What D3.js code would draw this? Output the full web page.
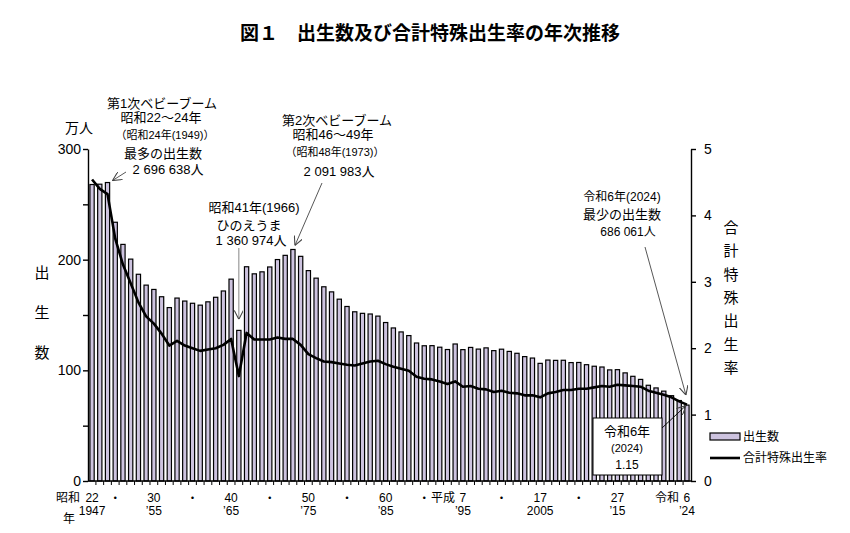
<!DOCTYPE html>
<html>
<head>
<meta charset="utf-8">
<script src="https://cdn.jsdelivr.net/npm/d3@7"></script>
<style>
  body { margin: 0; background: #fff; }
  text { font-family: "Liberation Sans", Arial, "Noto Sans CJK JP", sans-serif; fill: #000; }
</style>
</head>
<body>
<div id="chart"></div>
<script>
// 年（昭和22年=1947 〜 令和6年=2024）
const years = d3.range(1947, 2025);

// 出生数（万人）
const births = [
  267.9, 268.2, 269.7, 233.8, 213.8, 200.5, 186.8, 177.0, 173.1, 166.5,
  156.7, 165.3, 162.6, 160.6, 158.9, 161.9, 166.0, 171.7, 182.4, 136.1,
  193.6, 187.2, 189.0, 193.4, 200.1, 203.9, 209.2, 203.0, 190.1, 183.3,
  175.5, 170.9, 164.3, 157.7, 152.9, 151.5, 150.9, 149.0, 143.2, 138.3,
  134.7, 131.4, 124.7, 122.2, 122.3, 120.9, 118.8, 123.8, 118.7, 120.7,
  119.2, 120.3, 117.8, 119.1, 117.1, 115.4, 112.4, 111.1, 106.3, 109.3,
  109.0, 109.1, 107.0, 107.1, 105.1, 103.7, 103.0, 100.4, 100.6, 97.7,
  94.6, 91.8, 86.5, 84.1, 81.2, 77.1, 72.7, 68.6
];

// 合計特殊出生率
const tfr = [
  4.54, 4.40, 4.32, 3.65, 3.26, 2.98, 2.69, 2.48, 2.37, 2.22,
  2.04, 2.11, 2.04, 2.00, 1.96, 1.98, 2.00, 2.05, 2.14, 1.58,
  2.23, 2.13, 2.13, 2.13, 2.16, 2.14, 2.14, 2.05, 1.91, 1.85,
  1.80, 1.79, 1.77, 1.75, 1.74, 1.77, 1.80, 1.81, 1.76, 1.72,
  1.69, 1.66, 1.57, 1.54, 1.53, 1.50, 1.46, 1.50, 1.42, 1.43,
  1.39, 1.38, 1.34, 1.36, 1.33, 1.32, 1.29, 1.29, 1.26, 1.32,
  1.34, 1.37, 1.37, 1.39, 1.39, 1.41, 1.43, 1.42, 1.45, 1.44,
  1.43, 1.42, 1.36, 1.33, 1.30, 1.26, 1.20, 1.15
];

// x軸ラベル（和暦・西暦）
const eraLabels = [
  { year: 1947, text: "22" }, { year: 1950, text: "・" }, { year: 1955, text: "30" },
  { year: 1960, text: "・" }, { year: 1965, text: "40" }, { year: 1970, text: "・" },
  { year: 1975, text: "50" }, { year: 1980, text: "・" }, { year: 1985, text: "60" },
  { year: 1990, text: "・" }, { year: 1995, text: "7", era: "平成" },
  { year: 2000, text: "・" }, { year: 2005, text: "17" }, { year: 2010, text: "・" },
  { year: 2015, text: "27" }, { year: 2024, text: "6", era: "令和" }
];
const westernLabels = [
  { year: 1947, text: "1947" }, { year: 1955, text: "’55" }, { year: 1965, text: "’65" },
  { year: 1975, text: "’75" }, { year: 1985, text: "’85" }, { year: 1995, text: "’95" },
  { year: 2005, text: "2005" }, { year: 2015, text: "’15" }, { year: 2024, text: "’24" }
];

const leftTicks = [0, 50, 100, 150, 200, 250, 300];
const rightTicks = [0, 1, 2, 3, 4, 5];

const width = 850, height = 533;
const plot = { left: 88, right: 691, top: 149, bottom: 481 };
const barFill = "#cdc3df";

const svg = d3.select("#chart").append("svg")
  .attr("width", width)
  .attr("height", height);

const defs = svg.append("defs");
defs.append("marker")
  .attr("id", "arrow")
  .attr("viewBox", "0 0 10 10")
  .attr("refX", 10).attr("refY", 5)
  .attr("markerWidth", 9).attr("markerHeight", 9)
  .attr("orient", "auto-start-reverse")
  .attr("markerUnits", "userSpaceOnUse")
  .append("path")
  .attr("d", "M0,0 L10,5 L0,10")
  .attr("fill", "none")
  .attr("stroke", "#444")
  .attr("stroke-width", 1.2);

// タイトル
svg.append("text")
  .attr("x", 430).attr("y", 40)
  .attr("text-anchor", "middle")
  .style("font-family", "'Noto Sans CJK JP', sans-serif")
  .style("font-size", "19px")
  .style("font-weight", "bold")
  .text("図１　出生数及び合計特殊出生率の年次推移");

const x = d3.scaleBand()
  .domain(years)
  .range([plot.left, plot.right])
  .paddingInner(0.45)
  .paddingOuter(0.25);
const xc = yr => x(yr) + x.bandwidth() / 2;

const y = d3.scaleLinear().domain([0, 300]).range([plot.bottom, plot.top]);
const y2 = d3.scaleLinear().domain([0, 5]).range([plot.bottom, plot.top]);

// 棒（出生数）
svg.append("g")
  .selectAll("rect")
  .data(years)
  .enter()
  .append("rect")
  .attr("x", d => x(d))
  .attr("y", (d, i) => y(births[i]))
  .attr("width", x.bandwidth())
  .attr("height", (d, i) => y(0) - y(births[i]))
  .attr("fill", barFill)
  .attr("stroke", "#000")
  .attr("stroke-width", 1.2);

// 折れ線（合計特殊出生率）
const line = d3.line()
  .x((d, i) => xc(years[i]))
  .y(d => y2(d));

svg.append("path")
  .datum(tfr)
  .attr("fill", "none")
  .attr("stroke", "#000")
  .attr("stroke-width", 2.6)
  .attr("stroke-linejoin", "round")
  .attr("d", line);

// 左軸
const leftAxis = svg.append("g")
  .attr("transform", `translate(${plot.left},0)`)
  .call(d3.axisLeft(y)
    .tickValues(leftTicks)
    .tickSize(5)
    .tickSizeOuter(0)
    .tickPadding(2)
    .tickFormat(d => d % 100 === 0 ? d : ""));
leftAxis.selectAll("text").style("font-size", "14px");

// 右軸
const rightAxis = svg.append("g")
  .attr("transform", `translate(${plot.right},0)`)
  .call(d3.axisRight(y2)
    .tickValues(rightTicks)
    .tickSize(5)
    .tickSizeOuter(0)
    .tickPadding(8)
    .tickFormat(d3.format("d")));
rightAxis.selectAll("text").style("font-size", "14px");

svg.selectAll(".domain, .tick line")
  .attr("stroke", "#000")
  .attr("stroke-width", 1.4);

// 下軸
const bottom = svg.append("g");
bottom.append("line")
  .attr("x1", plot.left).attr("x2", plot.right)
  .attr("y1", plot.bottom).attr("y2", plot.bottom)
  .attr("stroke", "#000").attr("stroke-width", 1.4);
bottom.selectAll("line.yt")
  .data(years.slice(0, -1))
  .enter()
  .append("line")
  .attr("class", "yt")
  .attr("x1", d => x(d) + x.step() - (x.step() - x.bandwidth()) / 2)
  .attr("x2", d => x(d) + x.step() - (x.step() - x.bandwidth()) / 2)
  .attr("y1", plot.bottom).attr("y2", plot.bottom + 4)
  .attr("stroke", "#000").attr("stroke-width", 1);

bottom.selectAll("text.era")
  .data(eraLabels)
  .enter()
  .append("text")
  .attr("class", "era")
  .attr("x", d => xc(d.year))
  .attr("y", 502)
  .attr("text-anchor", "middle")
  .style("font-size", d => d.text === "・" ? "10px" : "12px")
  .style("font-weight", d => d.text === "・" ? "bold" : "normal")
  .text(d => d.text);

bottom.selectAll("text.eraname")
  .data(eraLabels.filter(d => d.era))
  .enter()
  .append("text")
  .attr("class", "eraname")
  .attr("x", d => xc(d.year) - 8)
  .attr("y", 502)
  .attr("text-anchor", "end")
  .style("font-size", "12px")
  .text(d => d.era);

bottom.append("text")
  .attr("x", xc(1947) - 12).attr("y", 502)
  .attr("text-anchor", "end")
  .style("font-size", "12px")
  .text("昭和");
bottom.append("text")
  .attr("x", 69).attr("y", 523)
  .attr("text-anchor", "middle")
  .style("font-size", "12px")
  .text("年");

bottom.selectAll("text.west")
  .data(westernLabels)
  .enter()
  .append("text")
  .attr("class", "west")
  .attr("x", d => xc(d.year))
  .attr("y", 515)
  .attr("text-anchor", "middle")
  .style("font-size", "12px")
  .text(d => d.text);

// 軸タイトル
svg.append("text")
  .attr("x", 79).attr("y", 133)
  .attr("text-anchor", "middle")
  .style("font-size", "14px")
  .text("万人");

svg.selectAll("text.ltitle")
  .data(["出", "生", "数"])
  .enter()
  .append("text")
  .attr("class", "ltitle")
  .attr("x", 42)
  .attr("y", (d, i) => 278 + i * 40)
  .attr("text-anchor", "middle")
  .style("font-size", "15px")
  .text(d => d);

svg.selectAll("text.rtitle")
  .data(["合", "計", "特", "殊", "出", "生", "率"])
  .enter()
  .append("text")
  .attr("class", "rtitle")
  .attr("x", 731)
  .attr("y", (d, i) => 233 + i * 23.3)
  .attr("text-anchor", "middle")
  .style("font-size", "15px")
  .text(d => d);

// 注記
function note(lines) {
  lines.forEach(l => {
    svg.append("text")
      .attr("x", l.x).attr("y", l.y)
      .attr("text-anchor", "middle")
      .style("font-size", (l.size || 13) + "px")
      .text(l.t);
  });
}
function arrow(x1, y1, x2, y2, color) {
  svg.append("line")
    .attr("x1", x1).attr("y1", y1)
    .attr("x2", x2).attr("y2", y2)
    .attr("stroke", color || "#444")
    .attr("stroke-width", 0.9)
    .attr("marker-end", "url(#arrow)");
}

const i1949 = years.indexOf(1949);
const i1966 = years.indexOf(1966);
const i1973 = years.indexOf(1973);
const i2024 = years.indexOf(2024);

note([
  { x: 162, y: 108, t: "第1次ベビーブーム" },
  { x: 161, y: 122, t: "昭和22～24年" },
  { x: 165, y: 139, t: "（昭和24年(1949)）", size: 11 },
  { x: 163, y: 158, t: "最多の出生数" },
  { x: 168, y: 174, t: "2 696 638人" }
]);
arrow(126, 172, xc(1949) + 5, y(births[i1949]) - 2);

note([
  { x: 337, y: 125, t: "第2次ベビーブーム" },
  { x: 333, y: 139, t: "昭和46～49年" },
  { x: 335, y: 156, t: "（昭和48年(1973)）", size: 11 },
  { x: 339, y: 176, t: "2 091 983人" }
]);
arrow(322, 183, xc(1973) + 2, y(births[i1973]) - 4);

note([
  { x: 254, y: 212, t: "昭和41年(1966)" },
  { x: 249, y: 230, t: "ひのえうま" },
  { x: 251, y: 245, t: "1 360 974人" }
]);
arrow(xc(1966), 248, xc(1966), y(births[i1966]) - 11, "#777");

note([
  { x: 622, y: 201, t: "令和6年(2024)", size: 12 },
  { x: 622, y: 219, t: "最少の出生数" },
  { x: 628, y: 236, t: "686 061人", size: 12 }
]);
arrow(645, 247, xc(2024) - 1, y(births[i2024]) - 10);

// 令和6年 合計特殊出生率 ボックス
svg.append("rect")
  .attr("x", 593).attr("y", 418)
  .attr("width", 69).attr("height", 57)
  .attr("fill", "#fff")
  .attr("stroke", "#000")
  .attr("stroke-width", 1);
note([
  { x: 627, y: 436, t: "令和6年" },
  { x: 627, y: 452, t: "(2024)", size: 11 },
  { x: 627, y: 469, t: "1.15", size: 12 }
]);
arrow(662, 428, xc(2024) - 1, y2(tfr[i2024]) + 1, "#000");

// 凡例
svg.append("rect")
  .attr("x", 710).attr("y", 433)
  .attr("width", 30).attr("height", 7)
  .attr("fill", barFill)
  .attr("stroke", "#000")
  .attr("stroke-width", 1.2);
svg.append("text")
  .attr("x", 743).attr("y", 441)
  .style("font-size", "12px")
  .text("出生数");
svg.append("line")
  .attr("x1", 710).attr("x2", 740)
  .attr("y1", 458).attr("y2", 458)
  .attr("stroke", "#000")
  .attr("stroke-width", 2.6);
svg.append("text")
  .attr("x", 743).attr("y", 462)
  .style("font-size", "12px")
  .text("合計特殊出生率");
</script>
</body>
</html>
